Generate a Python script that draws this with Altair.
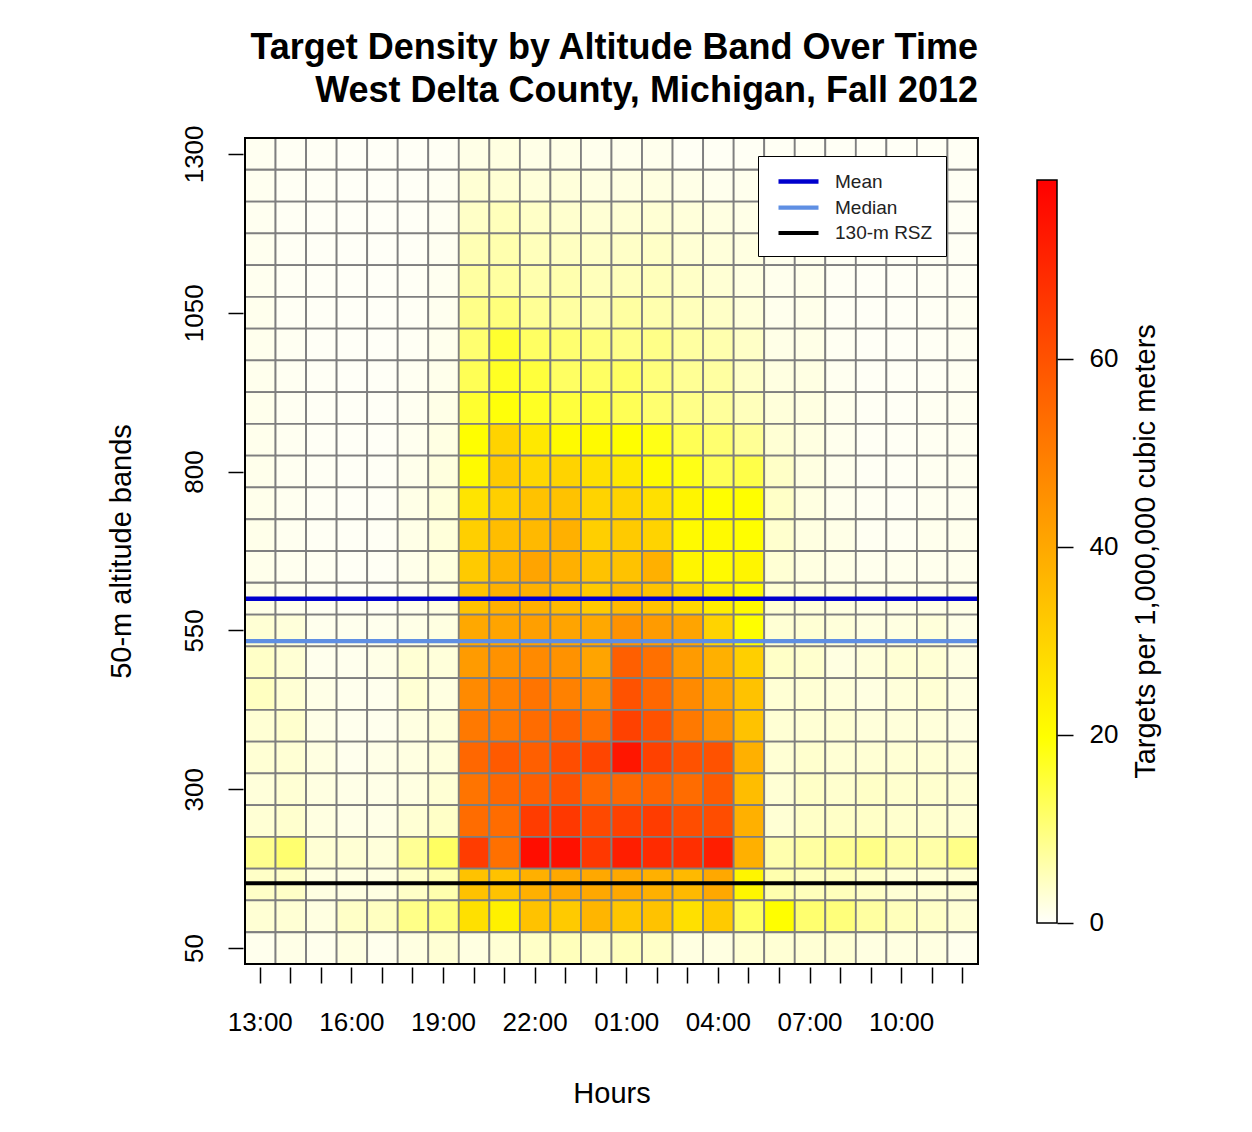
import altair as alt
import pandas as pd

FONT = "Liberation Sans"

hours = ["13:00", "14:00", "15:00", "16:00", "17:00", "18:00", "19:00", "20:00",
         "21:00", "22:00", "23:00", "00:00", "01:00", "02:00", "03:00", "04:00",
         "05:00", "06:00", "07:00", "08:00", "09:00", "10:00", "11:00", "12:00"]
shown_hours = ["13:00", "16:00", "19:00", "22:00", "01:00", "04:00", "07:00", "10:00"]

altitudes = [1300, 1250, 1200, 1150, 1100, 1050, 1000, 950, 900, 850, 800, 750, 700,
             650, 600, 550, 500, 450, 400, 350, 300, 250, 200, 150, 100, 50]

# targets per 1,000,000 m^3, one list per altitude band, hours 13:00 .. 12:00
d1300 = [0.7, 0.5, 0.4, 0.2, 0.2, 0.3, 0.5, 1.5, 2.0, 1.5, 1.5, 1.0, 1.0, 1.0, 0.5, 0.5, 0.5, 0.5, 0.5, 0.4, 0.3, 0.3, 0.4, 0.5]
d1250 = [0.8, 0.5, 0.4, 0.2, 0.2, 0.3, 0.6, 3.0, 3.0, 2.5, 2.5, 2.0, 2.0, 2.0, 1.5, 1.0, 1.0, 0.5, 0.6, 0.4, 0.3, 0.3, 0.4, 0.5]
d1200 = [0.8, 0.5, 0.3, 0.2, 0.2, 0.3, 0.6, 4.0, 5.0, 4.0, 3.5, 3.0, 3.0, 3.0, 2.5, 2.0, 1.5, 1.0, 0.8, 0.5, 0.3, 0.3, 0.4, 0.5]
d1150 = [0.9, 0.5, 0.3, 0.2, 0.2, 0.3, 0.7, 5.5, 6.0, 5.0, 4.5, 4.0, 4.0, 4.0, 3.0, 2.5, 2.0, 1.0, 1.0, 0.5, 0.3, 0.3, 0.5, 0.5]
d1100 = [0.9, 0.5, 0.3, 0.2, 0.2, 0.4, 0.8, 7.0, 7.0, 6.0, 6.0, 5.0, 5.0, 5.0, 4.0, 3.0, 2.0, 1.0, 1.2, 0.5, 0.3, 0.3, 0.5, 0.5]
d1050 = [1.0, 0.5, 0.3, 0.2, 0.2, 0.4, 0.9, 9.0, 10.0, 8.0, 7.0, 6.0, 7.0, 6.0, 5.0, 4.0, 2.5, 1.0, 1.3, 0.5, 0.3, 0.3, 0.5, 0.6]
d1000 = [1.0, 0.6, 0.3, 0.2, 0.2, 0.5, 1.0, 11.0, 16.0, 12.0, 11.0, 10.0, 9.0, 9.0, 7.0, 6.0, 4.0, 1.5, 1.5, 0.6, 0.3, 0.3, 0.5, 0.6]
d950 = [1.0, 0.6, 0.4, 0.2, 0.3, 0.6, 1.2, 13.0, 17.0, 15.0, 12.0, 12.0, 12.0, 10.0, 8.0, 7.0, 4.0, 2.0, 1.8, 0.8, 0.4, 0.4, 0.5, 0.6]
d900 = [1.1, 0.6, 0.4, 0.3, 0.3, 0.7, 1.5, 16.0, 19.0, 17.0, 15.0, 15.0, 13.0, 11.0, 9.0, 7.5, 5.0, 2.5, 2.0, 1.0, 0.5, 0.4, 0.6, 0.7]
d850 = [1.1, 0.7, 0.4, 0.3, 0.3, 0.9, 1.8, 20.0, 30.0, 25.0, 21.0, 21.0, 20.0, 18.0, 13.0, 11.0, 8.0, 3.0, 2.0, 1.0, 0.5, 0.5, 0.6, 0.7]
d800 = [1.2, 0.7, 0.5, 0.3, 0.4, 1.2, 2.2, 21.0, 32.0, 29.0, 30.0, 27.0, 25.0, 21.0, 18.0, 13.0, 14.0, 4.0, 2.0, 1.0, 0.5, 0.5, 0.7, 0.8]
d750 = [1.2, 0.8, 0.5, 0.3, 0.4, 1.5, 2.5, 26.0, 31.0, 34.0, 34.0, 30.0, 30.0, 27.0, 22.0, 20.0, 20.0, 4.0, 2.0, 1.0, 0.6, 0.5, 0.8, 0.8]
d700 = [1.3, 0.8, 0.5, 0.4, 0.5, 1.5, 2.5, 31.0, 35.0, 36.0, 38.0, 31.0, 32.0, 30.0, 21.0, 21.0, 20.0, 3.5, 2.0, 1.5, 0.6, 0.6, 1.0, 1.0]
d650 = [1.2, 0.9, 0.6, 0.4, 0.5, 1.3, 2.2, 32.0, 37.0, 41.0, 38.0, 34.0, 34.0, 38.0, 22.0, 21.0, 22.0, 3.0, 2.0, 1.5, 1.0, 1.0, 1.0, 1.0]
d600 = [1.5, 1.0, 0.6, 0.5, 0.5, 1.0, 1.8, 34.0, 38.0, 38.0, 36.0, 32.0, 36.0, 34.0, 29.0, 24.0, 21.0, 3.0, 2.5, 2.0, 1.5, 1.5, 1.5, 1.5]
d550 = [3.0, 2.5, 1.0, 1.0, 1.0, 1.5, 2.0, 40.0, 41.0, 42.0, 41.0, 40.0, 45.0, 43.0, 41.0, 30.0, 20.0, 3.0, 3.0, 2.5, 2.0, 2.0, 2.5, 1.5]
d500 = [4.0, 3.0, 1.0, 1.0, 1.5, 3.0, 2.5, 43.0, 45.0, 47.0, 45.0, 41.0, 57.0, 53.0, 43.0, 38.0, 31.0, 4.0, 3.5, 2.0, 2.5, 3.0, 3.0, 2.0]
d450 = [4.5, 3.0, 1.5, 1.0, 1.0, 3.0, 2.0, 47.0, 49.0, 52.0, 49.0, 46.0, 60.0, 55.0, 47.0, 41.0, 34.0, 3.0, 3.0, 2.5, 2.0, 2.5, 3.0, 2.0]
d400 = [3.0, 3.5, 1.5, 1.0, 1.0, 2.0, 2.5, 51.0, 51.0, 54.0, 56.0, 53.0, 64.0, 60.0, 51.0, 45.0, 34.0, 3.0, 3.0, 3.0, 2.5, 2.5, 2.5, 2.0]
d350 = [3.0, 3.0, 2.0, 1.0, 1.5, 2.0, 2.5, 55.0, 58.0, 57.0, 61.0, 63.0, 74.0, 64.0, 60.0, 60.0, 38.0, 3.0, 3.5, 3.0, 3.0, 3.0, 3.0, 2.5]
d300 = [2.5, 3.0, 2.0, 1.5, 1.5, 2.0, 3.0, 52.0, 55.0, 57.0, 60.0, 55.0, 55.0, 56.0, 54.0, 58.0, 35.0, 3.0, 4.0, 3.5, 4.0, 3.5, 3.5, 3.0]
d250 = [3.0, 3.5, 2.0, 1.5, 1.5, 3.0, 4.0, 54.0, 54.0, 65.0, 66.0, 62.0, 64.0, 65.0, 61.0, 61.0, 38.0, 3.0, 4.0, 4.0, 4.0, 3.5, 3.5, 3.0]
d200 = [8.5, 11.0, 3.0, 3.0, 2.5, 8.0, 12.0, 65.0, 53.0, 76.0, 75.0, 66.0, 72.0, 69.0, 68.0, 72.0, 38.0, 6.0, 7.0, 8.0, 9.0, 6.5, 6.5, 9.0]
d150 = [4.0, 4.0, 2.0, 2.0, 2.0, 4.0, 6.0, 34.0, 34.0, 38.0, 40.0, 40.0, 40.0, 38.0, 36.0, 40.0, 22.0, 6.0, 5.0, 5.0, 4.0, 3.0, 3.0, 3.0]
d100 = [3.0, 3.0, 2.0, 4.0, 4.5, 9.0, 10.0, 27.0, 23.0, 34.0, 32.0, 37.0, 33.0, 34.0, 27.0, 32.0, 12.0, 20.0, 11.0, 10.0, 7.0, 5.0, 4.0, 3.0]
d50 = [1.0, 1.5, 1.0, 2.0, 1.0, 2.0, 3.0, 2.0, 3.0, 4.0, 5.0, 4.0, 5.0, 4.0, 2.0, 2.0, 3.0, 3.0, 3.0, 3.0, 2.0, 2.0, 2.0, 1.0]

band_rows = [d1300, d1250, d1200, d1150, d1100, d1050, d1000, d950, d900, d850, d800,
             d750, d700, d650, d600, d550, d500, d450, d400, d350, d300, d250, d200,
             d150, d100, d50]

line_labels = ["Mean", "Median", "130-m RSZ"]
line_altitudes = [600, 533, 152]
line_colors = ["#0000CD", "#5F8FE3", "#000000"]
line_widths = [4.5, 4.0, 6.0]

color_domain = [0, 19.75, 79]
color_range = ["#FFFFFA", "#FFFF00", "#FF0000"]
bar_ticks = [0, 20, 40, 60]
y_ticks = [50, 300, 550, 800, 1050, 1300]

records = []
for a, row in zip(altitudes, band_rows):
    for h, v in zip(hours, row):
        records.append({"hour": h, "altitude": a, "density": v})
df = pd.DataFrame(records)
lines_df = pd.DataFrame({"label": line_labels, "alt": line_altitudes})
bar_df = pd.DataFrame({"lo": [color_domain[0]], "hi": [color_domain[-1]]})

PW, PH = 733, 826
y_scale = alt.Scale(domain=[25, 1325], nice=False, zero=False)
y_axis = alt.Axis(values=y_ticks, format="d", labelAngle=270, labelAlign="center",
                  labelBaseline="alphabetic", tickSize=15, offset=2, domain=False, grid=False,
                  tickColor="black", tickWidth=1.5, labelFontSize=26, labelPadding=26,
                  labelColor="black", title="50-m altitude bands", titleFontSize=29,
                  titleFontWeight="normal", titleColor="black", titlePadding=45)

label_list = ",".join("'%s'" % h for h in shown_hours)
x_axis = alt.Axis(labelAngle=0, labelExpr="indexof([%s], datum.value) >= 0 ? datum.value : ''" % label_list,
                  tickSize=16, offset=3, domain=False, grid=False, tickColor="black", tickWidth=1.5,
                  labelFontSize=26, labelPadding=26, labelColor="black",
                  title="Hours", titleFontSize=29, titleFontWeight="normal", titleColor="black",
                  titlePadding=44)

heat = alt.Chart(df).transform_calculate(
    lo="datum.altitude - 25", hi="datum.altitude + 25"
).mark_rect(stroke="#7f7f7f", strokeWidth=1.8).encode(
    x=alt.X("hour:O", sort=hours, scale=alt.Scale(paddingInner=0, paddingOuter=0), axis=x_axis),
    y=alt.Y("lo:Q", scale=y_scale, axis=y_axis),
    y2="hi:Q",
    fill=alt.Fill("density:Q", scale=alt.Scale(domain=color_domain, range=color_range,
                                               interpolate="rgb", clamp=True),
                  legend=None),
)

rules = alt.Chart(lines_df).mark_rule().encode(
    y=alt.Y("alt:Q", scale=y_scale, axis=y_axis),
    stroke=alt.Stroke("label:N", scale=alt.Scale(domain=line_labels, range=line_colors),
                      legend=alt.Legend(title=None, orient="none", legendX=513, legendY=18,
                                        direction="vertical", symbolType="M-0.5,0H3.5",
                                        symbolSize=400, symbolStrokeWidth=4, labelFont=FONT,
                                        labelFontSize=19, labelColor="#222222", labelOffset=39,
                                        padding=13, rowPadding=3, strokeColor="black",
                                        fillColor="white")),
    strokeWidth=alt.StrokeWidth("label:N", scale=alt.Scale(domain=line_labels, range=line_widths),
                                legend=None),
)

border = alt.Chart(bar_df).mark_rect(fill="transparent", stroke="black", strokeWidth=2).encode(
    x=alt.value(0), x2=alt.value(PW), y=alt.value(0), y2=alt.value(PH)
)

main = alt.layer(heat, rules, border).properties(
    width=PW, height=PH,
    title=alt.Title(["Target Density by Altitude Band Over Time",
                     "West Delta County, Michigan, Fall 2012"],
                    anchor="end", frame="group", fontSize=36, font=FONT, fontWeight="bold",
                    lineHeight=43, color="black", offset=15),
)

# colour bar (gradient) on the right
bar_scale = alt.Scale(domain=[-4.36, 83.47], nice=False, zero=False)
gradient = alt.LinearGradient(
    gradient="linear", x1=0, x2=0, y1=1, y2=0,
    stops=[alt.GradientStop(color=color_range[0], offset=0),
           alt.GradientStop(color=color_range[1], offset=color_domain[1] / color_domain[2]),
           alt.GradientStop(color=color_range[2], offset=1)],
)
colorbar = alt.Chart(bar_df).mark_rect(fill=gradient, stroke="black", strokeWidth=1.5).encode(
    x=alt.value(0), x2=alt.value(20),
    y=alt.Y("lo:Q", scale=bar_scale,
            axis=alt.Axis(orient="right", values=bar_ticks, tickSize=16, domain=False, grid=False,
                          tickColor="black", tickWidth=1.5, labelFontSize=26, labelPadding=16,
                          labelColor="black", labelAlign="left", labelBaseline="middle",
                          title="Targets per 1,000,000 cubic meters", titleAngle=270,
                          titleBaseline="top", titleFontSize=29, titleFontWeight="normal",
                          titleColor="black", titlePadding=14)),
    y2="hi:Q",
).properties(width=20, height=PH)

chart = alt.hconcat(main, colorbar, spacing=59, bounds="flush").properties(
    padding={"left": 107, "top": 29, "right": 60, "bottom": 20},
).configure(font=FONT).configure_view(stroke=None).configure_axis(
    labelFont=FONT, titleFont=FONT
)

chart.save("out.html", embed_options={"renderer": "svg", "actions": False})
